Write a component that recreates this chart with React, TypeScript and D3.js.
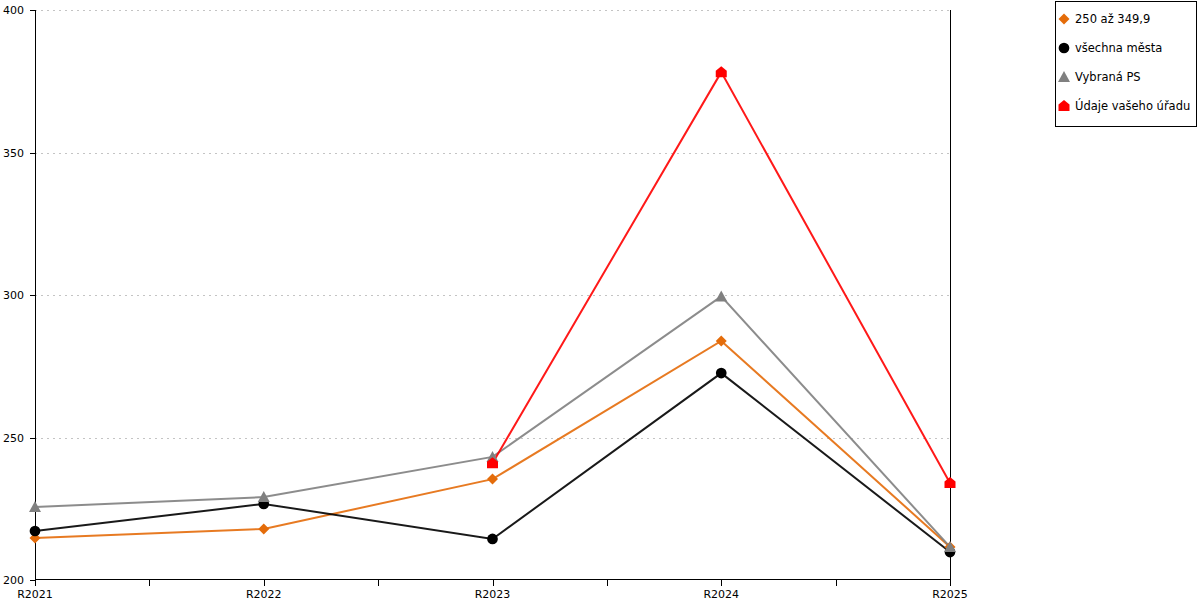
import React, { useRef, useEffect } from "react"
import * as d3 from "d3"

const categories = ["R2021", "R2022", "R2023", "R2024", "R2025"]
const yTicks = [200, 250, 300, 350, 400]

const orangeValues = [214.7, 217.9, 235.4, 283.9, 211.6]
const blackValues = [217.2, 226.7, 214.4, 272.6, 209.8]
const grayValues = [225.6, 229.1, 243.2, 299.5, 211.6]
const redValues: (number | null)[] = [null, null, 241, 378.2, 234]

const seriesNames = ["250 až 349,9", "všechna města", "Vybraná PS", "Údaje vašeho úřadu"]

const W = 1200
const H = 600
const left = 35
const right = 950
const top = 10
const bottom = 580

const App: React.FC = () => {
  const svgRef = useRef<SVGSVGElement>(null)

  useEffect(() => {
    const svg = d3.select(svgRef.current)
    svg.selectAll("*").remove()

    const x = d3.scalePoint<string>().domain(categories).range([left, right])
    const y = d3.scaleLinear().domain([200, 400]).range([bottom, top])

    const font = "DejaVu Sans, Verdana, sans-serif"

    // grid
    svg.append("g")
      .selectAll("line")
      .data(yTicks.filter(t => t > 200))
      .enter().append("line")
      .attr("x1", left)
      .attr("x2", right)
      .attr("y1", d => Math.round(y(d)) + 0.5)
      .attr("y2", d => Math.round(y(d)) + 0.5)
      .attr("stroke", "#c4c4c4")
      .attr("stroke-dasharray", "2,4")

    // y axis
    const yAxis = svg.append("g")
    yAxis.append("line")
      .attr("x1", left + 0.5).attr("x2", left + 0.5)
      .attr("y1", top).attr("y2", bottom)
      .attr("stroke", "#000")
    yAxis.selectAll("line.tick")
      .data(yTicks)
      .enter().append("line")
      .attr("class", "tick")
      .attr("x1", left - 5).attr("x2", left)
      .attr("y1", d => Math.round(y(d)) + 0.5)
      .attr("y2", d => Math.round(y(d)) + 0.5)
      .attr("stroke", "#000")
    yAxis.selectAll("text")
      .data(yTicks)
      .enter().append("text")
      .attr("x", left - 11)
      .attr("y", d => y(d) + 4)
      .attr("text-anchor", "end")
      .attr("font-family", font)
      .attr("font-size", 11)
      .text(d => d)

    // right border
    svg.append("line")
      .attr("x1", right + 0.5).attr("x2", right + 0.5)
      .attr("y1", top).attr("y2", bottom)
      .attr("stroke", "#000")

    // x axis
    const xAxis = svg.append("g")
    xAxis.append("line")
      .attr("x1", left).attr("x2", right + 1)
      .attr("y1", bottom - 0.5).attr("y2", bottom - 0.5)
      .attr("stroke", "#000")
    const step = x.step()
    const tickPos = d3.range(0, categories.length * 2 - 1).map(i => left + (i * step) / 2)
    xAxis.selectAll("line.tick")
      .data(tickPos)
      .enter().append("line")
      .attr("class", "tick")
      .attr("x1", d => Math.round(d) + 0.5)
      .attr("x2", d => Math.round(d) + 0.5)
      .attr("y1", bottom)
      .attr("y2", bottom + 6)
      .attr("stroke", "#000")
    xAxis.selectAll("text")
      .data(categories)
      .enter().append("text")
      .attr("x", d => x(d)!)
      .attr("y", bottom + 18)
      .attr("text-anchor", "middle")
      .attr("font-family", font)
      .attr("font-size", 11)
      .text(d => d)

    const series = [
      { values: orangeValues, color: "#e46c0a", shape: "diamond" },
      { values: blackValues, color: "#000000", shape: "circle" },
      { values: grayValues, color: "#808080", shape: "triangle" },
      { values: redValues, color: "#ff0000", shape: "house" },
    ]

    const markerPath = (shape: string) => {
      if (shape === "diamond") return "M0,-5.5L5.5,0L0,5.5L-5.5,0Z"
      if (shape === "triangle") return "M0,-6L6,5L-6,5Z"
      if (shape === "house") return "M0,-6L5.5,-1.5L5.5,5L-5.5,5L-5.5,-1.5Z"
      return d3.symbol(d3.symbolCircle, 90)()!
    }

    const line = d3.line<number | null>()
      .defined(d => d !== null)
      .x((d, i) => x(categories[i])!)
      .y(d => y(d as number))

    series.forEach(s => {
      svg.append("path")
        .datum(s.values)
        .attr("d", line)
        .attr("fill", "none")
        .attr("stroke", s.color)
        .attr("stroke-width", 2)
        .attr("stroke-opacity", 0.9)
    })

    series.forEach(s => {
      svg.append("g")
        .selectAll("path")
        .data(s.values.map((v, i) => ({ v, i })).filter(d => d.v !== null))
        .enter().append("path")
        .attr("transform", d => `translate(${x(categories[d.i])},${y(d.v as number)})`)
        .attr("d", markerPath(s.shape))
        .attr("fill", s.color)
    })

    // legend
    const legend = svg.append("g")
    legend.append("rect")
      .attr("x", 1055.5).attr("y", 1.5)
      .attr("width", 141).attr("height", 125)
      .attr("fill", "#fff")
      .attr("stroke", "#000")
    seriesNames.forEach((name, i) => {
      const ly = 19 + i * 29
      legend.append("path")
        .attr("transform", `translate(1064,${ly})`)
        .attr("d", markerPath(series[i].shape))
        .attr("fill", series[i].color)
      legend.append("text")
        .attr("x", 1075)
        .attr("y", ly + 4)
        .attr("font-family", font)
        .attr("font-size", 11.5)
        .attr("textLength", null)
        .text(name)
    })
  }, [])

  return (
    <div style={{ position: "fixed", left: 0, top: 0, width: W, height: H, background: "#fff" }}>
      <svg ref={svgRef} width={W} height={H} />
    </div>
  )
}

export default App
